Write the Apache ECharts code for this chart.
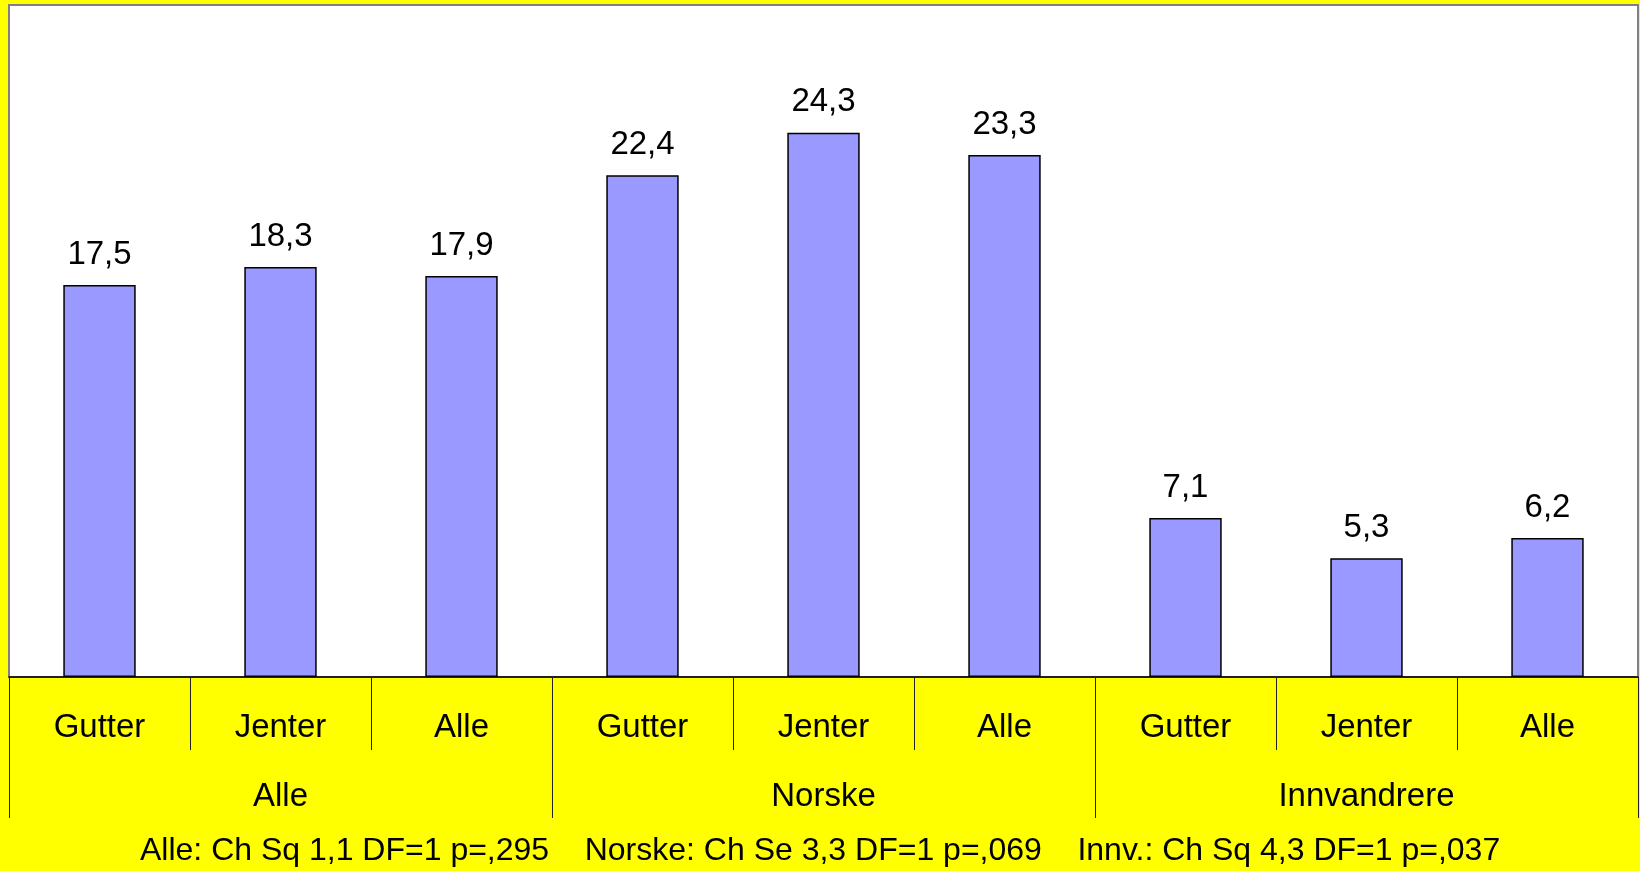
<!DOCTYPE html>
<html>
<head>
<meta charset="utf-8">
<script src="https://cdn.jsdelivr.net/npm/echarts@6/dist/echarts.min.js"></script>
<style>
html,body{margin:0;padding:0;background:#FFFF00;}
#chart{width:1640px;height:871px;}
</style>
</head>
<body>
<div id="chart"></div>
<script>
const subCategories = ['Gutter','Jenter','Alle','Gutter','Jenter','Alle','Gutter','Jenter','Alle'];
const groupCategories = ['Alle','Norske','Innvandrere'];
const values = [17.5, 18.3, 17.9, 22.4, 24.3, 23.3, 7.1, 5.3, 6.2];
const footerText = 'Alle: Ch Sq 1,1 DF=1 p=,295    Norske: Ch Se 3,3 DF=1 p=,069    Innv.: Ch Sq 4,3 DF=1 p=,037';

const FONT = 'Liberation Sans, Arial, sans-serif';
const chart = echarts.init(document.getElementById('chart'));
chart.setOption({
  backgroundColor: '#FFFF00',
  animation: false,
  grid: {
    left: 9, right: 2, top: 5, bottom: 194,
    show: true, backgroundColor: '#FFFFFF', borderColor: '#808080', borderWidth: 2
  },
  xAxis: [
    {
      type: 'category', data: subCategories, position: 'bottom',
      axisLine: { show: true, lineStyle: { color: '#000', width: 1.5 } },
      axisTick: { show: true, length: 73, lineStyle: { color: '#222', width: 1 } },
      axisLabel: { color: '#000', fontSize: 33, fontFamily: FONT, margin: 34, interval: 0 },
      splitLine: { show: false }
    },
    {
      type: 'category', data: groupCategories, position: 'bottom',
      axisLine: { show: false },
      axisTick: { show: true, length: 141, lineStyle: { color: '#222', width: 1 } },
      axisLabel: { color: '#000', fontSize: 33, fontFamily: FONT, margin: 103, interval: 0 },
      splitLine: { show: false }
    }
  ],
  yAxis: {
    type: 'value', min: 0, max: 30, interval: 5,
    show: false,
    splitLine: { show: false }
  },
  series: [{
    type: 'bar',
    xAxisIndex: 0,
    data: values,
    barWidth: '40%',
    itemStyle: { color: '#9999FF', borderColor: '#000', borderWidth: 1.5 },
    label: {
      show: true, position: 'top', distance: 14,
      color: '#000', fontSize: 33, fontFamily: FONT,
      formatter: p => String(p.value.toFixed(1)).replace('.', ',')
    }
  }],
  graphic: [{
    type: 'text',
    left: 140, top: 835,
    style: { text: footerText, fill: '#000', font: '32px ' + FONT }
  }]
});
</script>
</body>
</html>
